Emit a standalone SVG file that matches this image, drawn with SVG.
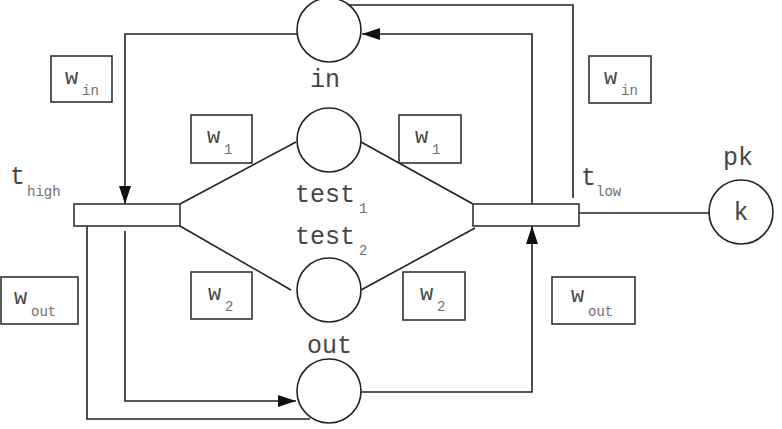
<svg xmlns="http://www.w3.org/2000/svg" width="782" height="429" viewBox="0 0 782 429">
<style>
.ln{fill:none;stroke:#222;stroke-width:1.6}
.pl{fill:#fff;stroke:#222;stroke-width:1.6}
.tr{fill:#fff;stroke:#333;stroke-width:1.6}
.bx{fill:#fff;stroke:#333;stroke-width:1.6}
.lb{font-family:"Liberation Mono","Courier New",monospace;font-size:25px;fill:#474747}
.wt{font-family:"Liberation Mono","Courier New",monospace;font-size:22px;fill:#474747}
.sb{font-family:"Liberation Mono","Courier New",monospace;font-size:14px;fill:#707070}
</style>
<defs>
<marker id="ar" viewBox="0 0 18 12" refX="18" refY="6" markerWidth="18" markerHeight="12" markerUnits="userSpaceOnUse" orient="auto">
<path d="M0,0 L18,6 L0,12 Z" fill="#111"/>
</marker>
</defs>
<g id="connectors">
<path class="ln" d="M297,34 H125 V204" marker-end="url(#ar)"/>
<path class="ln" d="M532,204 V34 H362" marker-end="url(#ar)"/>
<path class="ln" d="M347,5 H573 V198"/>
<path class="ln" d="M180,204 L296,142"/>
<path class="ln" d="M361,142 L473,204"/>
<path class="ln" d="M180,226 L291,290"/>
<path class="ln" d="M361,290 L475,228"/>
<path class="ln" d="M125,231 V401 H296" marker-end="url(#ar)"/>
<path class="ln" d="M87,226 V419 H310"/>
<path class="ln" d="M361,392 H532 V226" marker-end="url(#ar)"/>
<path class="ln" d="M579,213 H709"/>
</g>
<g id="place-in">
<circle class="pl" cx="329" cy="30" r="32"/>
<text class="lb" x="310" y="87">in</text>
</g>
<g id="place-test1">
<circle class="pl" cx="329" cy="140" r="32"/>
<text class="lb" x="295" y="202">test</text>
<text class="sb" x="359" y="213">1</text>
</g>
<g id="place-test2">
<circle class="pl" cx="329" cy="290" r="32"/>
<text class="lb" x="295" y="244">test</text>
<text class="sb" x="359" y="255">2</text>
</g>
<g id="place-out">
<circle class="pl" cx="329" cy="391" r="32"/>
<text class="lb" x="307" y="353">out</text>
</g>
<g id="place-pk">
<circle class="pl" cx="741" cy="212" r="32"/>
<text class="lb" x="723" y="165">pk</text>
<text class="lb" x="741" y="220" text-anchor="middle">k</text>
</g>
<g id="t-high">
<rect class="tr" x="74" y="204" width="106" height="22"/>
<text class="lb" x="10" y="184">t</text>
<text class="sb" x="27" y="196">high</text>
</g>
<g id="t-low">
<rect class="tr" x="473" y="204" width="106" height="22"/>
<text class="lb" x="581" y="185">t</text>
<text class="sb" x="596" y="196">low</text>
</g>
<g id="w-in-left">
<rect class="bx" x="51" y="56" width="61" height="46"/>
<text class="wt" x="65" y="84">w</text>
<text class="sb" x="82" y="95">in</text>
</g>
<g id="w-in-right">
<rect class="bx" x="589" y="56" width="62" height="47"/>
<text class="wt" x="604" y="84">w</text>
<text class="sb" x="621" y="95">in</text>
</g>
<g id="w1-left">
<rect class="bx" x="191" y="115" width="61" height="48"/>
<text class="wt" x="207" y="143">w</text>
<text class="sb" x="224" y="154">1</text>
</g>
<g id="w1-right">
<rect class="bx" x="399" y="115" width="62" height="48"/>
<text class="wt" x="415" y="143">w</text>
<text class="sb" x="432" y="154">1</text>
</g>
<g id="w2-left">
<rect class="bx" x="191" y="272" width="61" height="47"/>
<text class="wt" x="208" y="300">w</text>
<text class="sb" x="225" y="311">2</text>
</g>
<g id="w2-right">
<rect class="bx" x="403" y="272" width="62" height="48"/>
<text class="wt" x="420" y="300">w</text>
<text class="sb" x="437" y="311">2</text>
</g>
<g id="w-out-left">
<rect class="bx" x="1" y="277" width="77" height="47"/>
<text class="wt" x="14" y="304">w</text>
<text class="sb" x="31" y="316">out</text>
</g>
<g id="w-out-right">
<rect class="bx" x="552" y="277" width="83" height="47"/>
<text class="wt" x="571" y="302">w</text>
<text class="sb" x="588" y="316">out</text>
</g>
</svg>
